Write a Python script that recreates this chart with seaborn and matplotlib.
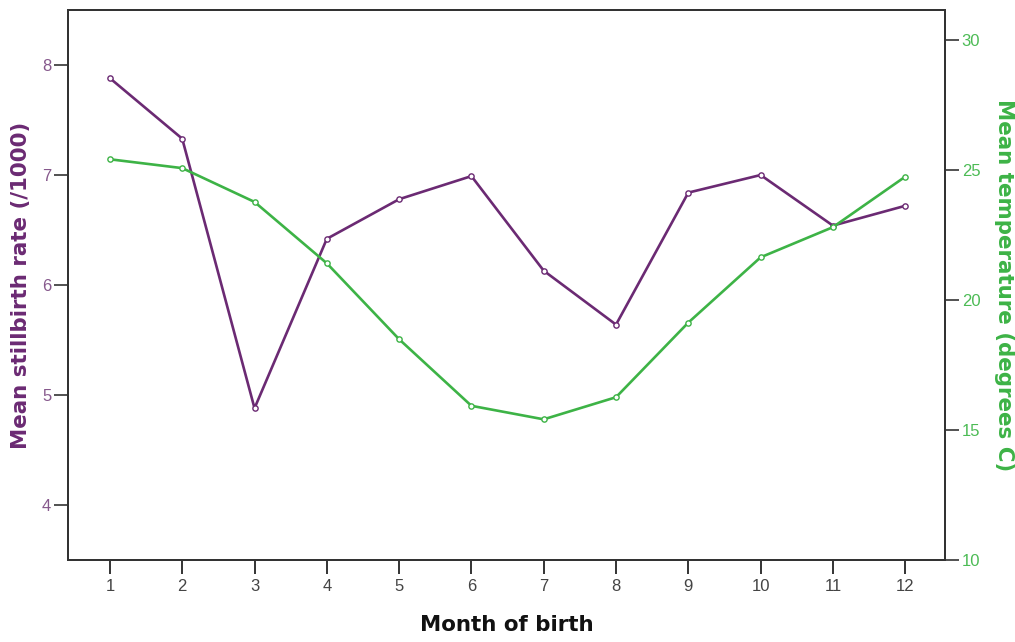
import matplotlib
matplotlib.use("Agg")
import matplotlib.pyplot as plt
import seaborn as sns
import pandas as pd

# Monthly means: stillbirth rate (left axis) and temperature (right axis)
months = [1, 2, 3, 4, 5, 6, 7, 8, 9, 10, 11, 12]
stillbirth_rate = [7.88, 7.33, 4.88, 6.42, 6.78, 6.99, 6.13, 5.64, 6.84, 7.00, 6.54, 6.72]
mean_temperature = [25.41, 25.07, 23.77, 21.41, 18.49, 15.93, 15.41, 16.26, 19.13, 21.64, 22.80, 24.74]
rate_ticks = [4, 5, 6, 7, 8]
temp_ticks = [10, 15, 20, 25, 30]

PURPLE = "#6b2a73"
GREEN = "#3db346"
FRAME = "#333333"

df = pd.DataFrame({"month": months, "rate": stillbirth_rate, "temp": mean_temperature})

sns.set_style("white")
plt.rcParams["font.family"] = ["Liberation Sans", "DejaVu Sans"]

fig = plt.figure(figsize=(10.15, 6.42), dpi=100)
ax = fig.add_axes([0.067, 0.1277, 0.864, 0.8567])
ax2 = ax.twinx()

sns.lineplot(data=df, x="month", y="rate", ax=ax, color=PURPLE, linewidth=1.9,
             marker="o", markersize=3.8, markerfacecolor="white",
             markeredgecolor=PURPLE, markeredgewidth=1.0)
sns.lineplot(data=df, x="month", y="temp", ax=ax2, color=GREEN, linewidth=1.9,
             marker="o", markersize=3.8, markerfacecolor="white",
             markeredgecolor=GREEN, markeredgewidth=1.0)

ax.set_xlim(0.42, 12.55)
ax.set_ylim(3.5, 8.5)
ax2.set_ylim(10, 31.15)

ax.set_xticks(months)
ax.set_xticklabels([str(m) for m in months])
ax.set_yticks(rate_ticks)
ax.set_yticklabels([str(t) for t in rate_ticks])
ax2.set_yticks(temp_ticks)
ax2.set_yticklabels([str(t) for t in temp_ticks])

for a in (ax, ax2):
    for s in a.spines.values():
        s.set_visible(True)
        s.set_color(FRAME)
        s.set_linewidth(1.4)

ax.tick_params(axis="x", direction="out", length=10, width=1.4, color=FRAME,
               labelsize=12, labelcolor="#444444", pad=4, bottom=True)
ax.tick_params(axis="y", direction="out", length=10, width=1.2, color=FRAME,
               labelsize=12, labelcolor="#86588c", pad=2, left=True)
ax2.tick_params(axis="y", direction="out", length=10, width=1.2, color=FRAME,
                labelsize=12, labelcolor="#4cbb55", pad=2, right=True)

ax.set_xlabel("Month of birth", fontsize=15.4, fontweight="bold",
              family=["DejaVu Sans"], color="#111111", labelpad=15)
ax.set_ylabel("Mean stillbirth rate (/1000)", fontsize=15.4, fontweight="bold",
              family=["DejaVu Sans"], color=PURPLE, labelpad=8)
ax2.set_ylabel("Mean temperature (degrees C)", fontsize=15.4, fontweight="bold",
               family=["DejaVu Sans"], color=GREEN, rotation=270, labelpad=24)

ax.grid(False)
ax2.grid(False)

fig.savefig("out.png", dpi=100)
